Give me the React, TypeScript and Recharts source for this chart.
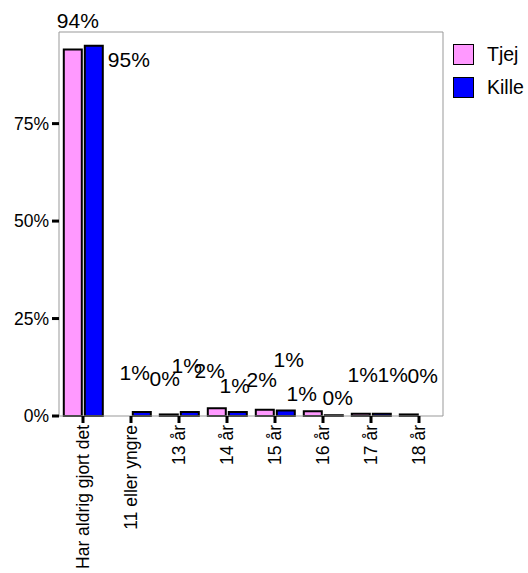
import React from 'react';
import { BarChart, Bar, XAxis, YAxis, LabelList, CartesianGrid } from 'recharts';

const categories = [
  'Har aldrig gjort det',
  '11 eller yngre',
  '13 år',
  '14 år',
  '15 år',
  '16 år',
  '17 år',
  '18 år',
];
const tjej = [94, null, 0.4, 2, 1.6, 1.2, 0.6, 0.4];
const kille = [95, 1, 1, 1, 1.4, 0.2, 0.6, null];
const yTicks = [0, 25, 50, 75];

// label nudges (dx, dy) from the top centre of each bar, per category
const tjejNudge = [[5, -29], [0, 0], [-4, -36], [-7, -38], [-3, -30], [-11, -18], [2, -39], [14, -39]];
const killeNudge = [[35, 14], [-7, -40], [-3, -47], [-3, -27], [3, -51], [4, -18], [11, -39], [0, 0]];

const series = [
  { key: 'tjej', name: 'Tjej', color: '#FF99FF', values: tjej, nudge: tjejNudge },
  { key: 'kille', name: 'Kille', color: '#0000FF', values: kille, nudge: killeNudge },
];

const data = categories.map((cat, i) => ({ cat, tjej: tjej[i], kille: kille[i] }));

const FONT = '"Liberation Sans", Arial, sans-serif';

function makeLabel(values: (number | null)[], nudge: number[][]) {
  // recharts skips null bars, so the label index counts only drawn bars
  const drawn = values.map((v, i) => (v === null ? -1 : i)).filter((i) => i >= 0);
  return (props: any) => {
    const { value, index } = props;
    if (value === null || value === undefined) return null;
    const vb = props.viewBox ?? props;
    const cat = props.payload?.cat;
    const ci = cat !== undefined ? categories.indexOf(cat) : drawn[index];
    const [dx, dy] = nudge[ci] ?? [0, 0];
    const cx = vb.x + vb.width / 2 + dx;
    const cy = Math.min(vb.y, vb.y + vb.height) + dy;
    return (
      <text
        x={cx}
        y={cy}
        textAnchor="middle"
        dominantBaseline="central"
        fontSize={21}
        fontFamily={FONT}
        fill="#000"
      >
        {`${Math.round(value)}%`}
      </text>
    );
  };
}

function XTick(props: any) {
  const { x, y, payload } = props;
  return (
    <text
      x={x}
      y={y}
      transform={`rotate(-90, ${x}, ${y})`}
      textAnchor="end"
      dominantBaseline="central"
      fontSize={17.5}
      fontFamily={FONT}
      fill="#000"
    >
      {payload.value}
    </text>
  );
}

export default function App(): React.JSX.Element {
  return (
    <div
      style={{
        position: 'absolute',
        left: 0,
        top: 0,
        width: 528,
        height: 573,
        overflow: 'hidden',
        background: '#fff',
        fontFamily: FONT,
      }}
    >
      <BarChart
        width={528}
        height={573}
        data={data}
        margin={{ top: 32, right: 85, left: 0, bottom: 0 }}
        barCategoryGap="10%"
        barGap={3}
      >
        {/* panel border on top and right */}
        <CartesianGrid
          stroke="#999"
          horizontalCoordinatesGenerator={({ offset }: any) => [offset.top]}
          verticalCoordinatesGenerator={({ offset }: any) => [offset.left + offset.width]}
        />
        <XAxis
          dataKey="cat"
          height={157}
          interval={0}
          tick={<XTick />}
          tickSize={7}
          tickMargin={2}
          tickLine={{ stroke: '#000', strokeWidth: 3 }}
          axisLine={{ stroke: '#999' }}
        />
        <YAxis
          type="number"
          width={59}
          domain={[0, 98.5]}
          ticks={yTicks}
          tickFormatter={(v: number) => `${v}%`}
          tick={{ fill: '#000', fontSize: 17.5, fontFamily: FONT }}
          tickSize={7}
          tickMargin={3}
          tickLine={{ stroke: '#000', strokeWidth: 3 }}
          axisLine={{ stroke: '#999' }}
        />
        {series.map((s) => (
          <Bar
            key={s.key}
            dataKey={s.key}
            name={s.name}
            fill={s.color}
            stroke="#000"
            strokeWidth={2}
            isAnimationActive={false}
          >
            <LabelList dataKey={s.key} content={makeLabel(s.values, s.nudge)} />
          </Bar>
        ))}
      </BarChart>
      <div style={{ position: 'absolute', left: 453, top: 43 }}>
        {series.map((s) => (
          <div
            key={s.key}
            style={{ display: 'flex', alignItems: 'center', height: 22, marginBottom: 11 }}
          >
            <div
              style={{
                width: 19,
                height: 19,
                background: s.color,
                border: '1.5px solid #000',
              }}
            />
            <span style={{ marginLeft: 13, fontSize: 19.5, color: '#000', whiteSpace: 'nowrap' }}>
              {s.name}
            </span>
          </div>
        ))}
      </div>
    </div>
  );
}
